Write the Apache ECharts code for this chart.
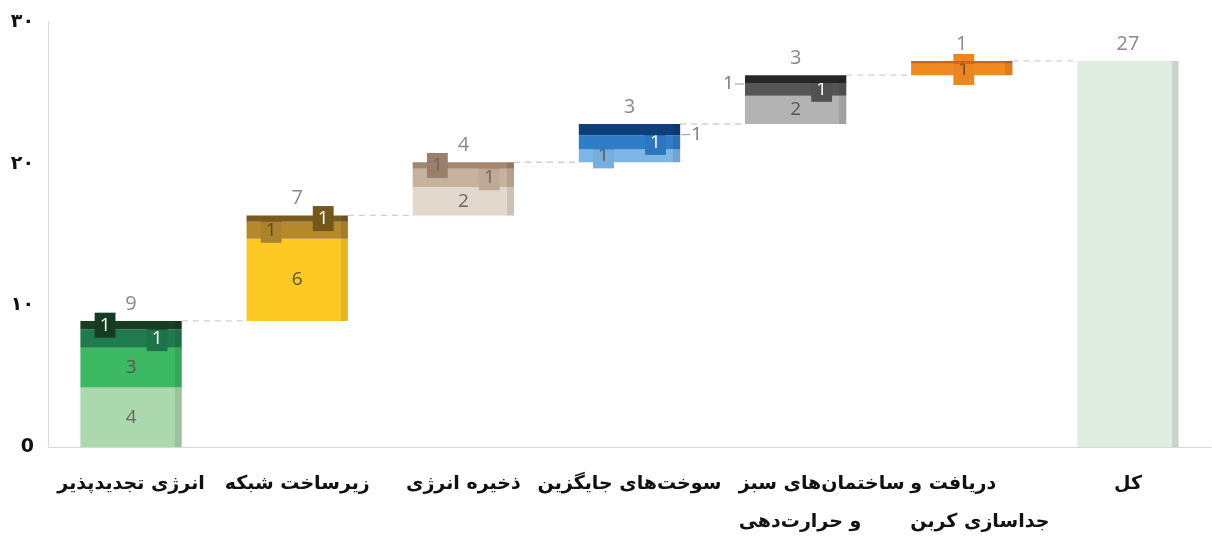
<!DOCTYPE html>
<html>
<head>
<meta charset="utf-8">
<script src="https://cdn.jsdelivr.net/npm/echarts@6/dist/echarts.min.js"></script>
<style>html,body{margin:0;padding:0;background:#fff}#c{width:1212px;height:537px}</style>
</head>
<body>
<div id="c"></div>
<script>
// ---- data ----
const categories = ['انرژی تجدیدپذیر', 'زیرساخت شبکه', 'ذخیره انرژی', 'سوخت\u200cهای جایگزین', 'ساختمان\u200cهای سبز\nو حرارت\u200cدهی', 'دریافت و\nجداسازی کربن', 'کل'];
const renewables = [4.2, 2.8, 1.3, 0.6];
const gridInfra = [5.8, 1.2, 0.45];
const storage = [2.0, 1.3, 0.45];
const altFuels = [0.9, 1.0, 0.8];
const greenBuildings = [2.0, 0.9, 0.55];
const carbonCapture = [0.8, 0.2];
const yTickLabels = ['0', '۱۰', '۲۰', '۳۰'];

// ---- styles ----
const segStyles = [
  [{c:'#acd8ae', l:'center', t:'#666'}, {c:'#3db863', l:'center', t:'#555'}, {c:'#1f7a4e', l:'badgeR', t:'#fff'}, {c:'#163f24', l:'badgeL', t:'#fff'}],
  [{c:'#fcc923', l:'center', t:'#5e5236'}, {c:'#b48a2c', l:'badgeL', t:'#5a4a2a'}, {c:'#7b5b1d', l:'badgeR', t:'#fff'}],
  [{c:'#e3d8cd', l:'center', t:'#666'}, {c:'#c7b29d', l:'badgeR', t:'#666'}, {c:'#a38670', l:'badgeL', t:'#666'}],
  [{c:'#7db7e6', l:'badgeL', t:'#555'}, {c:'#2f7dc9', l:'badgeR', t:'#fff'}, {c:'#0e3f78', l:'outR', t:'#777'}],
  [{c:'#b3b3b3', l:'center', t:'#555'}, {c:'#555555', l:'badgeR', t:'#fff'}, {c:'#262626', l:'outL', t:'#777'}],
  [{c:'#f28a22', l:'badgeC', t:'#6a4a20'}, {c:'#c9661b', l:'none', t:'#666'}]
];
const totalStyle = {c:'#deede0'};
// multi-line category label boxes (left-aligned lines)
const multiLineBox = {4: {width: 150, pad: 36}, 5: {width: 135, pad: 32}};

const segments = [renewables, gridInfra, storage, altFuels, greenBuildings, carbonCapture];
const sums = segments.map(s => s.reduce((a, b) => a + b, 0));
const bases = [];
let acc = 0;
sums.forEach(s => { bases.push(acc); acc += s; });
const grandTotal = acc;
bases.push(0);
const tops = sums.map((s, i) => bases[i] + s).concat([grandTotal]);
const totals = sums.concat([grandTotal]);

function shade(hex, f) {
  const n = parseInt(hex.slice(1), 16);
  const r = Math.round(((n >> 16) & 255) * f), g = Math.round(((n >> 8) & 255) * f), b = Math.round((n & 255) * f);
  return 'rgb(' + r + ',' + g + ',' + b + ')';
}
function fill(c) {
  const d = shade(c, 0.9);
  return new echarts.graphic.LinearGradient(0, 0, 1, 0, [
    {offset: 0, color: c}, {offset: 0.93, color: c}, {offset: 0.93, color: d}, {offset: 1, color: d}
  ]);
}
const FONT = '"Open Sans", "Noto Sans", sans-serif';
const AFONT = '"DejaVu Sans", sans-serif';
function segLabel(v, st) {
  const txt = String(Math.max(1, Math.round(v)));
  const base = {show: true, fontFamily: FONT, fontSize: 19, color: st.t, formatter: () => txt};
  switch (st.l) {
    case 'center': return Object.assign(base, {position: 'inside'});
    case 'badgeL': return Object.assign(base, {position: 'inside', offset: [-26, 0], backgroundColor: shade(st.c, 0.95), padding: [4, 5, 2, 5]});
    case 'badgeR': return Object.assign(base, {position: 'inside', offset: [26, 0], backgroundColor: shade(st.c, 0.95), padding: [4, 5, 2, 5]});
    case 'badgeC': return Object.assign(base, {position: 'inside', offset: [2, 0], backgroundColor: shade(st.c, 0.97), padding: [7, 5, 5, 5]});
    case 'outR': return Object.assign(base, {position: 'right', distance: 1, offset: [0, 5], formatter: () => '{ln|}{t|' + txt + '}',
      rich: {ln: {width: 9, height: 1, backgroundColor: '#999'}, t: {fontFamily: FONT, fontSize: 19, color: st.t, padding: [0, 0, 0, 1]}}});
    case 'outL': return Object.assign(base, {position: 'left', distance: 1, offset: [0, 5], formatter: () => '{t|' + txt + '}{ln|}',
      rich: {ln: {width: 9, height: 1, backgroundColor: '#999'}, t: {fontFamily: FONT, fontSize: 19, color: st.t, padding: [0, 1, 0, 0]}}});
    default: return {show: false};
  }
}

const layerCount = Math.max(...segments.map(s => s.length));
const series = [{
  type: 'bar', stack: 'w', silent: true, barWidth: '61%',
  itemStyle: {color: 'rgba(0,0,0,0)'}, data: bases
}];
for (let k = 0; k < layerCount; k++) {
  const data = categories.map((_, c) => {
    if (c === segments.length) {
      if (k === 0) return {value: grandTotal, itemStyle: {color: fill(totalStyle.c)}, label: {show: false}};
      return '-';
    }
    const v = segments[c][k];
    if (v === undefined) return '-';
    const st = segStyles[c][k];
    return {value: v, itemStyle: {color: fill(st.c)}, label: segLabel(v, st)};
  });
  series.push({type: 'bar', stack: 'w', barWidth: '61%', data: data, z: 2 + k});
}
// connectors
series.push({
  type: 'custom', z: 1,
  data: tops.slice(0, segments.length).map((v, i) => [i, v]),
  renderItem: function (params, api) {
    const i = api.value(0), v = api.value(1);
    const p = api.coord([i, v]);
    const bw = api.size([1, 0])[0];
    const half = bw * 0.305;
    return {type: 'line', shape: {x1: p[0] + half, y1: p[1], x2: p[0] + bw - half, y2: p[1]},
      style: {stroke: '#cfcfcf', lineDash: [6, 5], lineWidth: 1.3}};
  }
});
// totals above bars
series.push({
  type: 'scatter', symbolSize: 0, z: 10,
  data: tops.map((v, i) => [i, v]),
  label: {show: true, position: 'top', distance: 7, fontFamily: FONT, fontSize: 20, color: '#6b6b6b',
    formatter: p => String(Math.round(totals[p.dataIndex]))}
});

const rich = {};
Object.keys(multiLineBox).forEach(k => {
  rich['m' + k] = {width: multiLineBox[k].width, align: 'left', padding: [0, 0, 0, multiLineBox[k].pad],
    fontFamily: AFONT, fontWeight: 'bold', fontSize: 19, color: '#111', lineHeight: 38};
});

const chart = echarts.init(document.getElementById('c'));
chart.setOption({
  animation: false,
  grid: {left: 48, right: 1, top: 22, bottom: 90, containLabel: false, outerBoundsMode: 'none'},
  xAxis: {
    type: 'category', data: categories,
    axisLine: {show: true, lineStyle: {color: '#d9d9d9'}},
    axisTick: {show: false},
    axisLabel: {interval: 0, margin: 18, fontFamily: AFONT, fontWeight: 'bold', fontSize: 19, color: '#111', lineHeight: 38,
      formatter: (val, idx) => multiLineBox[idx] ? val.split('\n').map(s => '{m' + idx + '|' + s + '}').join('\n') : val,
      rich: rich}
  },
  yAxis: {
    type: 'value', min: 0, max: 30, interval: 10,
    axisLine: {show: true, lineStyle: {color: '#d9d9d9'}},
    axisTick: {show: false}, splitLine: {show: false},
    axisLabel: {margin: 14, fontFamily: AFONT, fontWeight: 'bold', fontSize: 19, color: '#111',
      formatter: v => yTickLabels[Math.round(v / 10)]}
  },
  series: series
});
</script>
</body>
</html>
